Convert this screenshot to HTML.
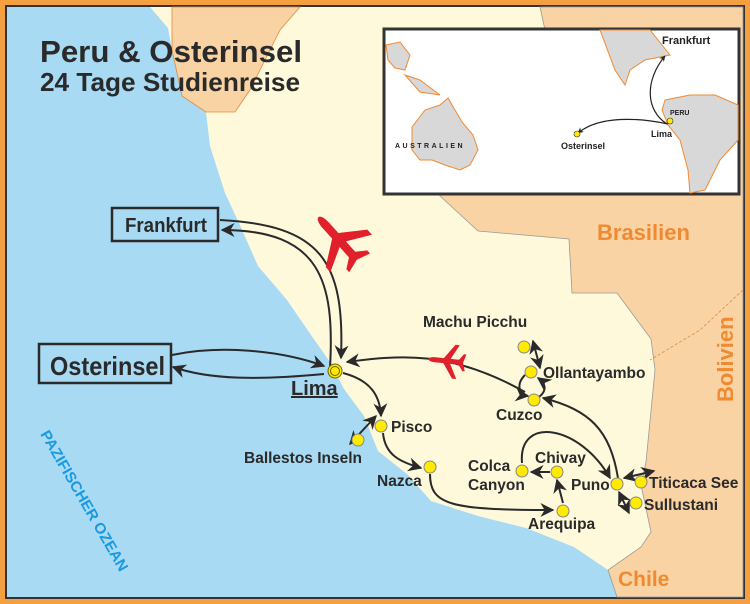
<!DOCTYPE html>
<html><head><meta charset="utf-8"><style>
html,body{margin:0;padding:0;background:#fff}
svg{display:block}
text{font-family:"Liberation Sans",sans-serif;font-weight:bold}
</style></head><body>
<svg width="750" height="604" viewBox="0 0 750 604" xmlns="http://www.w3.org/2000/svg">
<defs>
<marker id="a" viewBox="0 0 10 10" refX="9" refY="5" markerWidth="6" markerHeight="6" orient="auto-start-reverse" markerUnits="userSpaceOnUse">
<path d="M0,0 L10,5 L0,10 L3,5 z" fill="#2a2a2a"/></marker>
<marker id="b" viewBox="0 0 10 10" refX="9" refY="5" markerWidth="17" markerHeight="14" orient="auto-start-reverse" markerUnits="userSpaceOnUse">
<path d="M0,0 L10,5 L0,10 L3,5 z" fill="#2a2a2a"/></marker>
<path id="pl" d="M22,0 C22,-2 18,-3 14,-3 L4,-3 L-8,-20 L-13,-20 L-4,-3 L-14,-3 L-19,-10 L-22,-10 L-19,0 L-22,10 L-19,10 L-14,3 L-4,3 L-13,20 L-8,20 L4,3 L14,3 C18,3 22,2 22,0 Z"/>
</defs>
<rect width="750" height="604" fill="#f4a040"/>
<rect x="6" y="6" width="738" height="592" fill="#fff9dc" stroke="#333" stroke-width="2"/>
<path d="M7,7 L150,7 L168,28 L172,50 L182,96 L206,112 L210,146 L225,193 L239,223 L258,266 L287,300 L311,335 L330,362 L344,389 L364,416 L378,451 L407,474 L431,501 L478,516 L526,528 L574,547 L608,570 L617,597 L7,597 Z" fill="#a8daf4"/>
<path d="M172,7 L300,7 L280,30 L265,60 L250,90 L235,112 L206,112 L182,96 L172,50 Z" fill="#f9d3a3" stroke="#e08a40" stroke-width="0.8"/>
<path d="M540,7 L743,7 L743,597 L617,597 L608,570 L641,547 L651,532 L641,485 L646,462 L655,370 L651,339 L617,293 L572,293 L569,239 L478,231 L440,196 L440,40 L545,30 Z" fill="#f9d3a3" stroke="#999" stroke-width="0.8"/>
<path d="M743,290 L700,330 L650,360" fill="none" stroke="#e08a40" stroke-width="0.8" stroke-dasharray="3,2"/>
<rect x="384" y="29" width="355" height="165" fill="#fff" stroke="#333" stroke-width="3"/>
<g fill="#d8d8d8" stroke="#f08a30" stroke-width="1">
<path d="M412,127 L425,110 L440,105 L448,98 L455,110 L462,122 L473,135 L478,150 L470,165 L460,170 L445,165 L432,160 L420,160 L412,150 Z"/>
<path d="M386,45 L400,42 L410,55 L405,70 L395,68 L388,60 Z"/>
<path d="M405,75 L420,80 L440,95 L420,92 Z"/>
<path d="M600,30 L650,30 L670,55 L645,60 L630,70 L625,85 L615,70 Z"/>
<path d="M665,100 L690,95 L715,95 L738,105 L738,140 L720,160 L705,190 L690,193 L688,170 L680,140 L668,125 L662,110 Z"/>
</g>
<g fill="none" stroke="#222" stroke-width="1.2">
<path d="M667,124 C645,110 645,80 665,56" marker-end="url(#a)"/>
<path d="M668,124 C640,118 600,115 578,133" marker-end="url(#a)"/>
</g>
<circle cx="577" cy="134" r="3" fill="#ffea00" stroke="#333" stroke-width=".6"/>
<circle cx="670" cy="121" r="3" fill="#ffea00" stroke="#333" stroke-width=".6"/>
<text x="662" y="44" font-size="11" fill="#222">Frankfurt</text>
<text x="670" y="115" font-size="7" fill="#222">PERU</text>
<text x="651" y="137" font-size="9" fill="#222">Lima</text>
<text x="561" y="149" font-size="9" fill="#222">Osterinsel</text>
<text x="395" y="148" font-size="7" fill="#222" letter-spacing="2.5">AUSTRALIEN</text>
<text x="40" y="62" font-size="31" fill="#2a2a2a" textLength="262" lengthAdjust="spacingAndGlyphs">Peru &amp; Osterinsel</text>
<text x="40" y="91" font-size="26" fill="#2a2a2a" textLength="260" lengthAdjust="spacingAndGlyphs">24 Tage Studienreise</text>
<text x="597" y="240" font-size="22" fill="#f08a30">Brasilien</text>
<text transform="translate(733,402) rotate(-90)" font-size="22" fill="#f08a30">Bolivien</text>
<text x="618" y="586" font-size="21" fill="#f08a30">Chile</text>
<text transform="translate(40,434) rotate(60)" font-size="15" fill="#1a9ae0" textLength="160" lengthAdjust="spacingAndGlyphs">PAZIFISCHER OZEAN</text>
<rect x="112" y="208" width="106" height="33" fill="none" stroke="#2a2a2a" stroke-width="2.5"/>
<text x="125" y="232" font-size="20" fill="#2a2a2a" textLength="82" lengthAdjust="spacingAndGlyphs">Frankfurt</text>
<rect x="39" y="344" width="132" height="39" fill="none" stroke="#2a2a2a" stroke-width="2.5"/>
<text x="50" y="375" font-size="26" fill="#2a2a2a" textLength="115" lengthAdjust="spacingAndGlyphs">Osterinsel</text>
<g fill="none" stroke="#2a2a2a" stroke-width="2">
<path d="M220,220 C320,225 345,260 341,358" marker-end="url(#b)"/>
<path d="M330,368 C335,280 320,230 222,230" marker-end="url(#b)"/>
<path d="M172,355 C220,345 280,350 324,366" marker-end="url(#b)"/>
<path d="M324,374 C260,380 210,380 173,367" marker-end="url(#b)"/>
<path d="M525,392 C450,350 400,355 347,362" marker-end="url(#b)"/>
<path d="M343,373 C370,380 380,395 381,416" marker-end="url(#b)"/>
<path d="M350,444 L376,416" marker-start="url(#b)" marker-end="url(#b)"/>
<path d="M383,433 C385,455 400,462 421,468" marker-end="url(#b)"/>
<path d="M430,474 C430,505 450,510 553,510" marker-end="url(#b)"/>
<path d="M563,503 L557,480" marker-end="url(#b)"/>
<path d="M550,472 L531,472" marker-end="url(#b)"/>
<path d="M522,463 C518,415 580,425 610,478" marker-end="url(#b)"/>
<path d="M618,478 C610,430 590,410 543,398" marker-end="url(#b)"/>
<path d="M624,478 L654,471" marker-start="url(#b)" marker-end="url(#b)"/>
<path d="M619,492 L629,513" marker-start="url(#b)" marker-end="url(#b)"/>
<path d="M533,341 L540,368" marker-start="url(#b)" marker-end="url(#b)"/>
<path d="M525,375 C515,385 520,395 528,396" marker-end="url(#b)"/>
<path d="M539,397 C548,390 545,383 538,378" marker-end="url(#b)"/>
</g>
<g fill="#ffea00" stroke="#888" stroke-width="1">
<circle cx="335" cy="371" r="7" stroke="#6b6000"/>
<circle cx="335" cy="371" r="4.5" stroke="#6b6000"/>
<circle cx="381" cy="426" r="6"/><circle cx="358" cy="440" r="6"/>
<circle cx="430" cy="467" r="6"/><circle cx="563" cy="511" r="6"/>
<circle cx="557" cy="472" r="6"/><circle cx="522" cy="471" r="6"/>
<circle cx="617" cy="484" r="6"/><circle cx="641" cy="482" r="6"/>
<circle cx="636" cy="503" r="6"/><circle cx="534" cy="400" r="6"/>
<circle cx="531" cy="372" r="6"/><circle cx="524" cy="347" r="6"/>
</g>
<g fill="#e0202a">
<use href="#pl" transform="translate(339,240) rotate(-132) scale(1.4)"/>
<use href="#pl" transform="translate(447,361) rotate(186) scale(0.85)"/>
</g>
<g font-size="15.5" fill="#2a2a2a">
<text x="291" y="395" font-size="20" text-decoration="underline">Lima</text>
<text x="391" y="432">Pisco</text>
<text x="244" y="463">Ballestos Inseln</text>
<text x="377" y="486">Nazca</text>
<text x="528" y="529">Arequipa</text>
<text x="535" y="463">Chivay</text>
<text x="468" y="471">Colca</text>
<text x="468" y="490">Canyon</text>
<text x="571" y="490">Puno</text>
<text x="649" y="488">Titicaca See</text>
<text x="644" y="510">Sullustani</text>
<text x="496" y="420">Cuzco</text>
<text x="543" y="378">Ollantayambo</text>
<text x="423" y="327">Machu Picchu</text>
</g>
</svg>
</body></html>
